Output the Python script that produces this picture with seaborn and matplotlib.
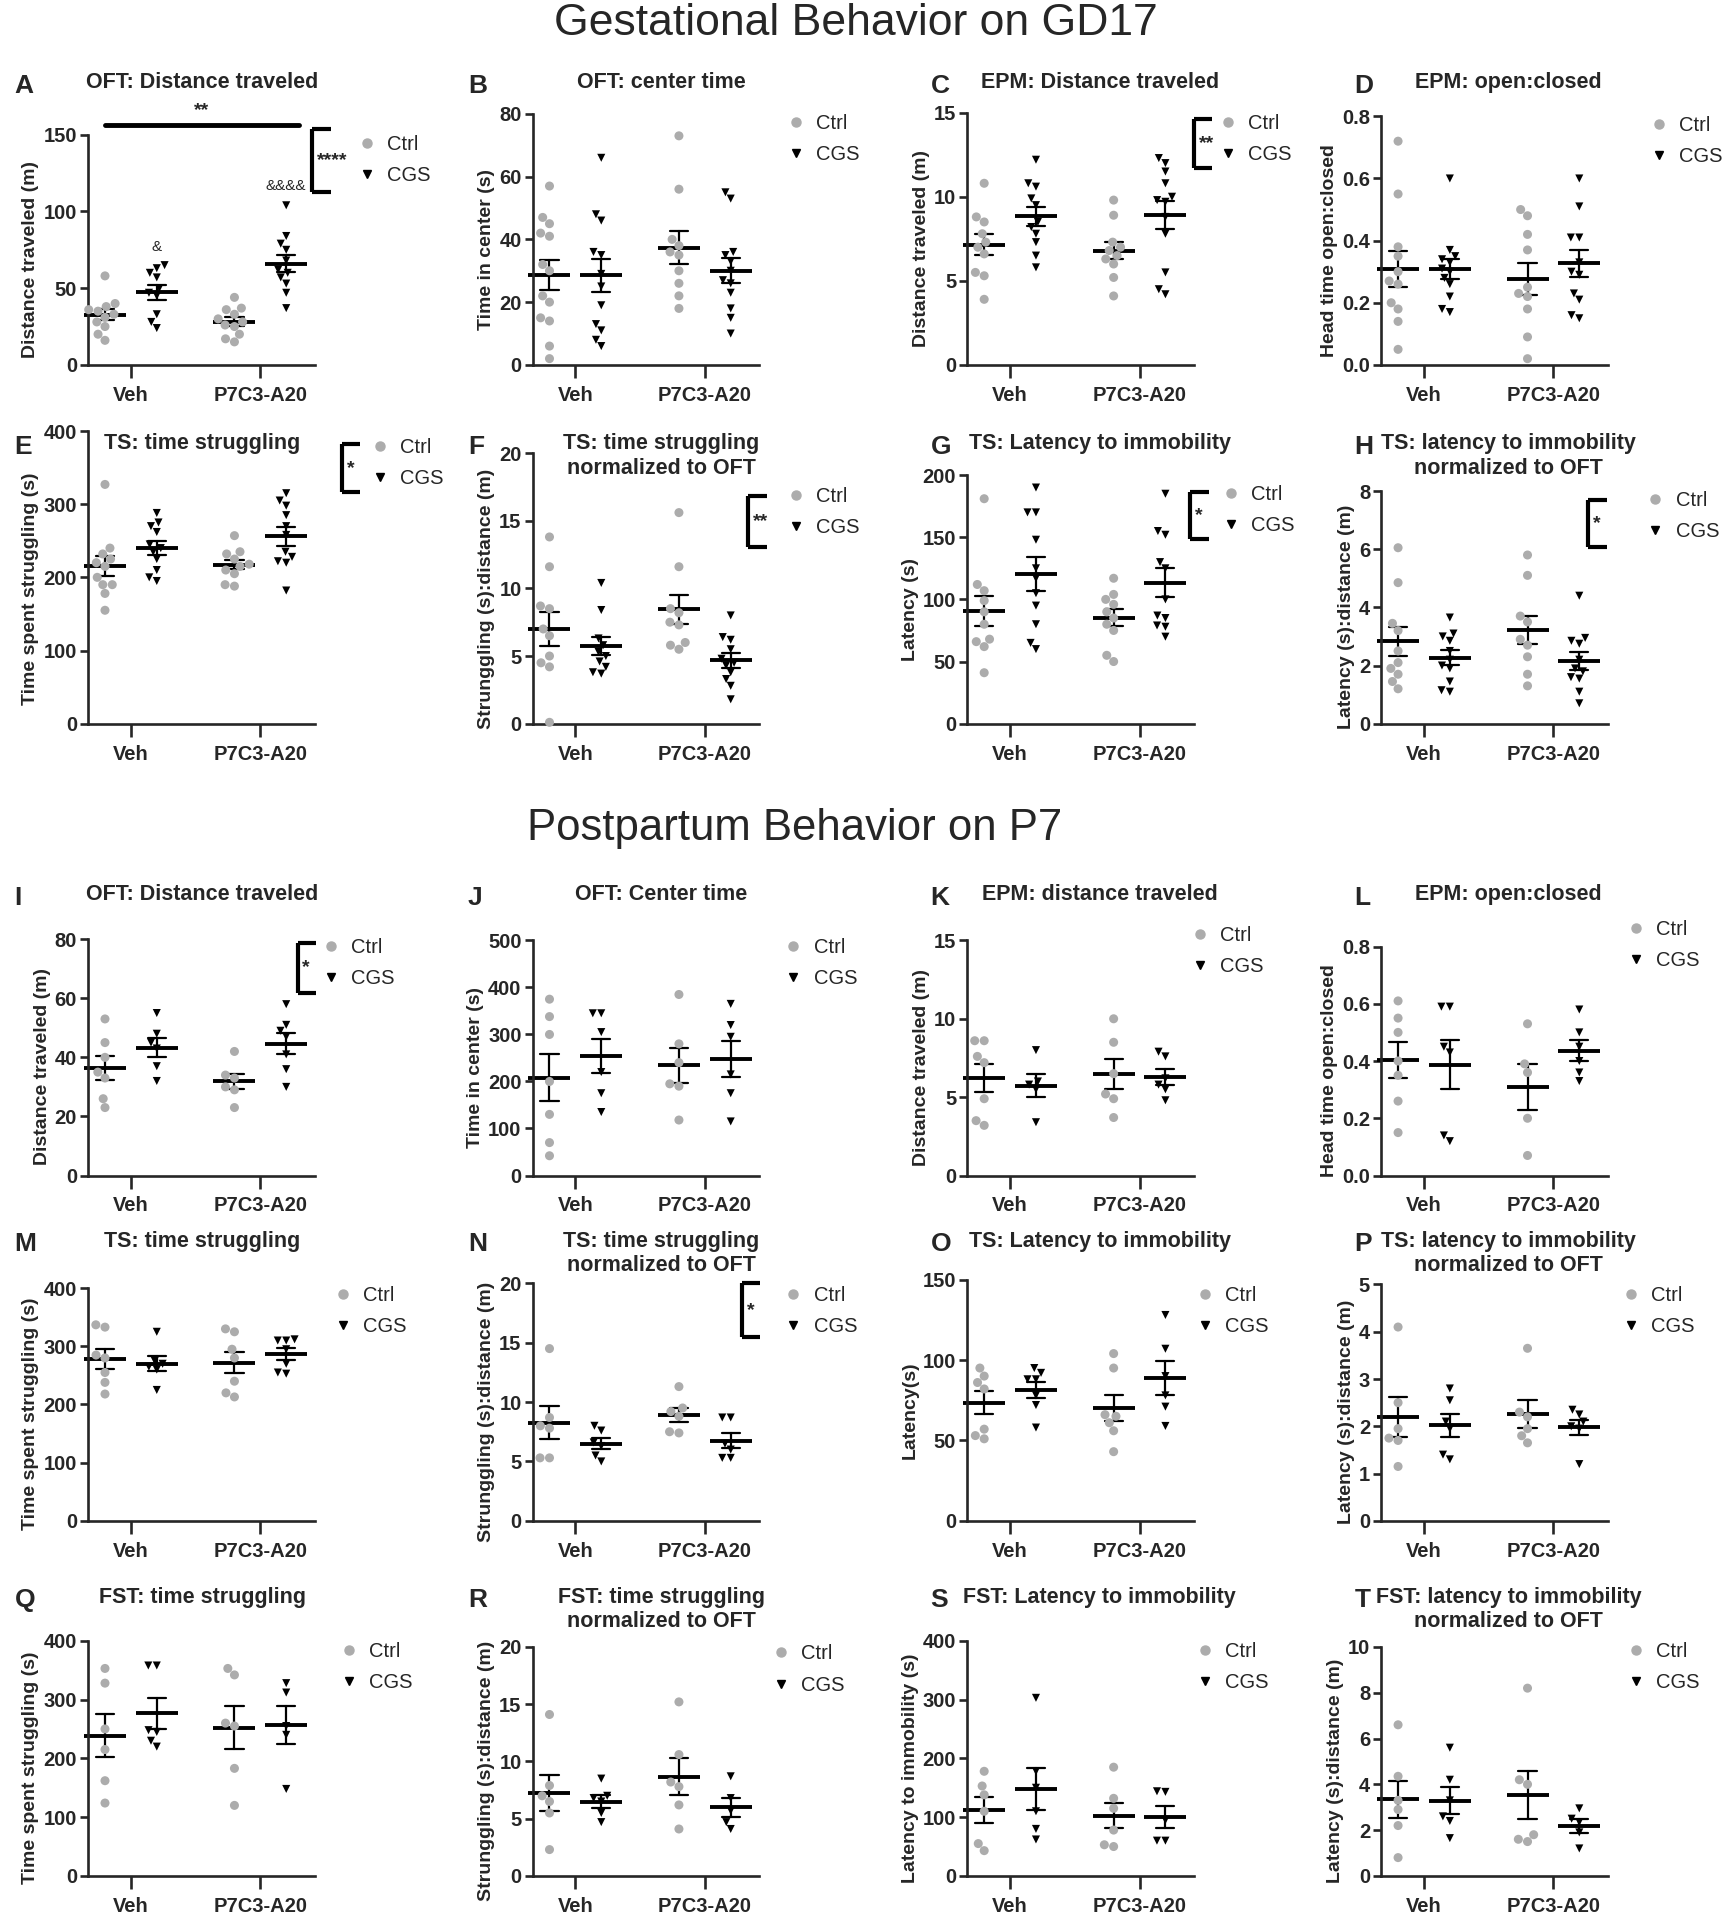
import pandas as pd
import matplotlib
matplotlib.use("Agg")
import matplotlib.pyplot as plt
from matplotlib.lines import Line2D
from matplotlib.ticker import FormatStrFormatter
import seaborn as sns

drugs = ["Veh", "P7C3-A20"]
stress = ["Ctrl", "CGS"]

# each panel: [Veh/Ctrl, Veh/CGS, P7C3-A20/Ctrl, P7C3-A20/CGS]
A_oft_dist = [[58, 40, 38, 36, 35, 33, 31, 28, 25, 20, 16],
              [65, 63, 60, 57, 50, 47, 45, 33, 28, 24],
              [44, 37, 36, 33, 30, 28, 26, 25, 20, 17, 15],
              [104, 84, 79, 75, 68, 62, 60, 57, 53, 47, 37]]
B_oft_center = [[57, 47, 45, 42, 41, 32, 30, 22, 20, 14, 15, 6, 2],
                [66, 48, 46, 36, 35, 29, 25, 19, 13, 11, 8, 6],
                [73, 56, 40, 38, 36, 35, 30, 26, 22, 18],
                [55, 53, 36, 35, 33, 30, 27, 26, 23, 18, 15, 10]]
C_epm_dist = [[10.8, 8.8, 8.5, 7.8, 7.3, 7.0, 6.6, 5.5, 5.3, 3.9],
              [12.2, 10.8, 10.6, 9.9, 9.5, 8.5, 8.2, 7.8, 7.3, 6.5, 5.8],
              [9.8, 8.9, 7.3, 7.0, 6.8, 6.5, 6.3, 6.0, 5.2, 4.1],
              [12.3, 12.0, 11.5, 10.8, 10.0, 9.8, 9.7, 8.8, 7.8, 5.5, 4.5, 4.2]]
D_epm_ratio = [[0.72, 0.55, 0.38, 0.35, 0.30, 0.27, 0.26, 0.20, 0.18, 0.14, 0.05],
               [0.60, 0.37, 0.35, 0.34, 0.33, 0.31, 0.30, 0.28, 0.26, 0.22, 0.18, 0.17],
               [0.50, 0.48, 0.42, 0.37, 0.25, 0.23, 0.22, 0.18, 0.09, 0.02],
               [0.60, 0.51, 0.41, 0.41, 0.33, 0.30, 0.29, 0.23, 0.21, 0.16, 0.15]]
E_ts_struggle = [[327, 240, 232, 225, 220, 215, 200, 190, 190, 178, 155],
                 [288, 275, 270, 262, 245, 240, 235, 225, 210, 200, 195],
                 [257, 235, 232, 225, 218, 215, 210, 205, 190, 188],
                 [315, 305, 298, 285, 270, 258, 235, 228, 222, 220, 182]]
F_ts_struggle_norm = [[13.8, 11.6, 8.7, 8.5, 7.0, 6.5, 5.0, 4.5, 4.2, 0.1],
                      [10.4, 8.4, 6.3, 5.8, 5.3, 5.0, 4.6, 4.2, 3.8, 3.7],
                      [15.6, 11.6, 8.5, 8.2, 7.5, 7.3, 6.0, 5.8, 5.5],
                      [8.0, 6.4, 6.2, 5.5, 4.8, 4.5, 4.3, 3.8, 3.3, 2.8, 1.8]]
G_ts_latency = [[181, 112, 107, 99, 90, 80, 68, 66, 62, 41],
                [190, 170, 170, 148, 125, 117, 105, 95, 80, 65, 60],
                [117, 104, 100, 96, 90, 85, 80, 75, 55, 50],
                [185, 155, 152, 130, 125, 100, 87, 85, 79, 78, 70]]
H_ts_latency_norm = [[6.05, 4.85, 3.45, 3.2, 2.5, 2.1, 1.9, 1.7, 1.45, 1.2],
                     [3.65, 3.1, 3.0, 2.85, 2.5, 2.2, 2.0, 1.9, 1.45, 1.15, 1.1],
                     [5.8, 5.1, 3.7, 3.5, 2.9, 2.7, 2.3, 1.7, 1.3],
                     [4.4, 2.95, 2.85, 2.75, 2.2, 1.9, 1.8, 1.6, 1.55, 1.1, 0.7]]
I_oft_dist = [[53, 45, 40, 35, 33, 26, 23],
              [55, 48, 45, 43, 37, 32],
              [42, 34, 33, 30, 29, 23],
              [58, 51, 49, 47, 41, 36, 30]]
J_oft_center = [[375, 338, 300, 200, 130, 70, 42],
                [345, 345, 305, 220, 175, 135],
                [385, 280, 240, 195, 190, 118],
                [365, 320, 295, 215, 175, 115]]
K_epm_dist = [[8.6, 8.6, 7.6, 7.2, 4.9, 3.5, 3.2],
              [8.0, 6.0, 5.8, 5.5, 3.4],
              [10.0, 8.5, 6.5, 5.2, 4.9, 3.7],
              [7.9, 7.6, 6.2, 5.8, 5.5, 4.8]]
L_epm_ratio = [[0.61, 0.55, 0.50, 0.40, 0.35, 0.26, 0.15],
               [0.59, 0.59, 0.45, 0.43, 0.14, 0.12],
               [0.53, 0.39, 0.36, 0.20, 0.07],
               [0.58, 0.50, 0.45, 0.40, 0.36, 0.33]]
M_ts_struggle = [[337, 333, 285, 280, 255, 238, 218],
                 [325, 275, 270, 265, 260, 225],
                 [330, 325, 295, 280, 240, 220, 213],
                 [312, 310, 310, 295, 270, 255, 253]]
N_ts_struggle_norm = [[14.5, 8.7, 8.0, 7.8, 5.3, 5.3],
                      [8.0, 7.6, 6.6, 6.3, 5.5, 5.0],
                      [11.3, 9.5, 9.2, 8.8, 7.5, 7.4],
                      [8.7, 8.7, 6.5, 6.0, 5.3, 5.3]]
O_ts_latency = [[95, 90, 86, 82, 57, 53, 51],
                [95, 92, 88, 88, 78, 72, 58],
                [104, 95, 66, 65, 61, 56, 43],
                [128, 107, 90, 78, 71, 59]]
P_ts_latency_norm = [[4.1, 2.5, 1.95, 1.75, 1.7, 1.15],
                     [2.8, 2.55, 2.1, 1.95, 1.4, 1.3],
                     [3.65, 2.3, 2.2, 1.95, 1.8, 1.65],
                     [2.35, 2.25, 2.1, 2.0, 1.95, 1.2]]
Q_fst_struggle = [[353, 328, 250, 215, 162, 124],
                  [358, 358, 248, 245, 230, 220],
                  [353, 342, 260, 255, 183, 120],
                  [328, 312, 255, 240, 148]]
R_fst_struggle_norm = [[14.1, 7.9, 7.0, 6.5, 5.5, 2.3],
                       [8.5, 7.0, 6.8, 6.5, 5.5, 4.7],
                       [15.2, 10.6, 8.2, 7.8, 6.2, 4.1],
                       [8.7, 6.8, 5.7, 4.7, 4.1]]
S_fst_latency = [[178, 153, 138, 110, 55, 43],
                 [303, 178, 150, 110, 80, 62],
                 [185, 132, 115, 78, 53, 50],
                 [144, 143, 95, 60, 60]]
T_fst_latency_norm = [[6.6, 4.35, 3.3, 2.9, 2.2, 0.8],
                      [5.6, 4.2, 3.3, 2.6, 2.4, 1.65],
                      [8.2, 4.2, 4.0, 1.8, 1.6, 1.5],
                      [2.95, 2.5, 2.35, 1.9, 1.2]]

panel_data = [A_oft_dist, B_oft_center, C_epm_dist, D_epm_ratio,
              E_ts_struggle, F_ts_struggle_norm, G_ts_latency, H_ts_latency_norm,
              I_oft_dist, J_oft_center, K_epm_dist, L_epm_ratio,
              M_ts_struggle, N_ts_struggle_norm, O_ts_latency, P_ts_latency_norm,
              Q_fst_struggle, R_fst_struggle_norm, S_fst_latency, T_fst_latency_norm]
letters = list("ABCDEFGHIJKLMNOPQRST")
titles = ["OFT: Distance traveled", "OFT: center time", "EPM: Distance traveled", "EPM: open:closed",
          "TS: time struggling", "TS: time struggling\nnormalized to OFT",
          "TS: Latency to immobility", "TS: latency to immobility\nnormalized to OFT",
          "OFT: Distance traveled", "OFT: Center time", "EPM: distance traveled", "EPM: open:closed",
          "TS: time struggling", "TS: time struggling\nnormalized to OFT",
          "TS: Latency to immobility", "TS: latency to immobility\nnormalized to OFT",
          "FST: time struggling", "FST: time struggling\nnormalized to OFT",
          "FST: Latency to immobility", "FST: latency to immobility\nnormalized to OFT"]
ylabels = ["Distance traveled (m)", "Time in center (s)", "Distance traveled (m)", "Head time open:closed",
           "Time spent struggling (s)", "Strunggling (s):distance (m)", "Latency (s)", "Latency (s):distance (m)",
           "Distance traveled (m)", "Time in center (s)", "Distance traveled (m)", "Head time open:closed",
           "Time spent struggling (s)", "Strunggling (s):distance (m)", "Latency(s)", "Latency (s):distance (m)",
           "Time spent struggling (s)", "Strunggling (s):distance (m)", "Latency to immobility (s)",
           "Latency (s):distance (m)"]
ymax = [150, 80, 15, 0.8, 400, 20, 200, 8, 80, 500, 15, 0.8, 400, 20, 150, 5, 400, 20, 400, 10]
ystep = [50, 20, 5, 0.2, 100, 5, 50, 2, 20, 100, 5, 0.2, 100, 5, 50, 1, 100, 5, 100, 2]
stars = {"A": "****", "C": "**", "E": "*", "F": "**", "G": "*", "H": "*", "I": "*", "N": "*"}

# ---- layout, in pixels of a 1412 x 1568 page ----
PW, PH = 1412.0, 1568.0
col_left = [72, 435, 790, 1128]
ax_w = 185
row_zero = [298, 591, 960, 1242, 1532]
panel_top = [110, 93, 92, 95, 352, 370, 388, 401, 767, 768, 768, 773,
             1052, 1048, 1045, 1049, 1340, 1345, 1340, 1345]
title_cx = [165, 540, 898, 1232]
letter_x = [12, 382, 760, 1106]
title_y = [70, 365, 733, 1016, 1307]
legend_xy = [(300, 122), (650, 105), (1003, 105), (1355, 107),
             (310, 370), (650, 410), (1005, 408), (1352, 413),
             (270, 778), (648, 778), (980, 768), (1336, 763),
             (280, 1062), (648, 1062), (984, 1062), (1332, 1062),
             (285, 1353), (638, 1355), (984, 1353), (1336, 1353)]
brackets = {"A": (255, 105, 157), "C": (975, 97, 137), "E": (279, 363, 402),
            "F": (611, 405, 447), "G": (972, 402, 440), "H": (1297, 408, 447),
            "I": (243, 770, 811), "N": (606, 1048, 1092)}

GRAY = "#acacac"
FONT = ["Liberation Sans", "DejaVu Sans"]

sns.set_style("ticks")
plt.rcParams["font.family"] = FONT
plt.rcParams["axes.linewidth"] = 1.9
plt.rcParams["xtick.major.width"] = 1.9
plt.rcParams["ytick.major.width"] = 1.9


def fx(x):
    return x / PW


def fy(y):
    return 1 - y / PH


def long_table(vals):
    rows = []
    cells = [(d, s) for d in drugs for s in stress]
    for (d, s), v in zip(cells, vals):
        rows += [(d, s, x) for x in v]
    return pd.DataFrame(rows, columns=["drug", "stress", "value"])


fig = plt.figure(figsize=(17.29, 19.2), dpi=100)

fig.text(fx(699), fy(19), "Gestational Behavior on GD17", ha="center", va="center", fontsize=32)
fig.text(fx(649), fy(677), "Postpartum Behavior on P7", ha="center", va="center", fontsize=31.5)

for i, vals in enumerate(panel_data):
    r, c = divmod(i, 4)
    top, zero = panel_top[i], row_zero[r]
    ax = fig.add_axes([fx(col_left[c]), fy(zero), ax_w / PW, (zero - top) / PH])
    df = long_table(vals)

    sns.swarmplot(data=df[df.stress == "Ctrl"], x="drug", y="value", hue="stress",
                  order=drugs, hue_order=stress, dodge=True, palette={"Ctrl": GRAY, "CGS": "black"},
                  marker="o", size=6.5, legend=False, ax=ax)
    sns.swarmplot(data=df[df.stress == "CGS"], x="drug", y="value", hue="stress",
                  order=drugs, hue_order=stress, dodge=True, palette={"Ctrl": GRAY, "CGS": "black"},
                  marker="v", size=5.8, legend=False, ax=ax)
    sns.pointplot(data=df, x="drug", y="value", hue="stress", order=drugs, hue_order=stress,
                  dodge=0.4, errorbar="se", capsize=0.14, palette=["black", "black"],
                  marker="_", markersize=30, markeredgewidth=2.8, linestyle="none",
                  err_kws={"linewidth": 1.6}, legend=False, ax=ax)

    for coll in ax.collections:
        coll.set_clip_on(False)
    for ln in ax.lines:
        ln.set_clip_on(False)

    ax.set_xlim(-0.33, 1.42)
    ax.set_ylim(0, ymax[i])
    n_steps = int(round(ymax[i] / ystep[i]))
    ax.set_yticks([k * ystep[i] for k in range(n_steps + 1)])
    if ystep[i] < 1:
        ax.yaxis.set_major_formatter(FormatStrFormatter("%.1f"))
    sns.despine(ax=ax)
    ax.tick_params(axis="y", length=6, pad=2)
    ax.tick_params(axis="x", length=9, pad=6)
    for lab in ax.get_yticklabels() + ax.get_xticklabels():
        lab.set_fontweight("bold")
        lab.set_fontsize(14.5)
    ax.set_xlabel("")
    ax.set_ylabel(ylabels[i], fontsize=14, fontweight="bold", labelpad=3, y=0.46, ha="center")

    # title and panel letter
    fig.text(fx(letter_x[c]), fy(title_y[r]), letters[i], fontsize=19, fontweight="bold",
             ha="left", va="center")
    fig.text(fx(title_cx[c]), fy(title_y[r] - 11), titles[i], fontsize=15.5, fontweight="bold",
             ha="center", va="top", linespacing=1.2)

    # legend
    lx, ly = legend_xy[i]
    handles = [Line2D([], [], ls="none", marker="o", color=GRAY, markersize=6.5),
               Line2D([], [], ls="none", marker="v", color="black", markersize=5.8)]
    ax.legend(handles, stress, loc="upper left", bbox_to_anchor=(fx(lx - 5), fy(ly - 12)),
              bbox_transform=fig.transFigure, frameon=False, borderpad=0, borderaxespad=0,
              handlelength=0.6, handletextpad=0.7, labelspacing=0.6,
              prop={"size": 14.5})

    # significance brackets
    if letters[i] in brackets:
        bx, by0, by1 = brackets[letters[i]]
        arm = 15
        for xs, ys in [([bx, bx], [by0, by1]), ([bx, bx + arm], [by0, by0]), ([bx, bx + arm], [by1, by1])]:
            fig.add_artist(Line2D([fx(x) for x in xs], [fy(y) for y in ys], color="black",
                                  lw=3, solid_capstyle="butt"))
        fig.text(fx(bx + 4), fy((by0 + by1) / 2), stars[letters[i]], fontsize=14,
                 fontweight="bold", ha="left", va="center")

    if letters[i] == "A":
        ax.plot([-0.2, 1.3], [156, 156], color="black", lw=3.5, clip_on=False)
        ax.text(0.55, 160, "**", ha="center", va="bottom", fontsize=14, fontweight="bold")
        ax.text(0.2, 72, "&", ha="center", va="bottom", fontsize=11)
        ax.text(1.2, 112, "&&&&", ha="center", va="bottom", fontsize=11)

fig.savefig("out.png", dpi=100)
